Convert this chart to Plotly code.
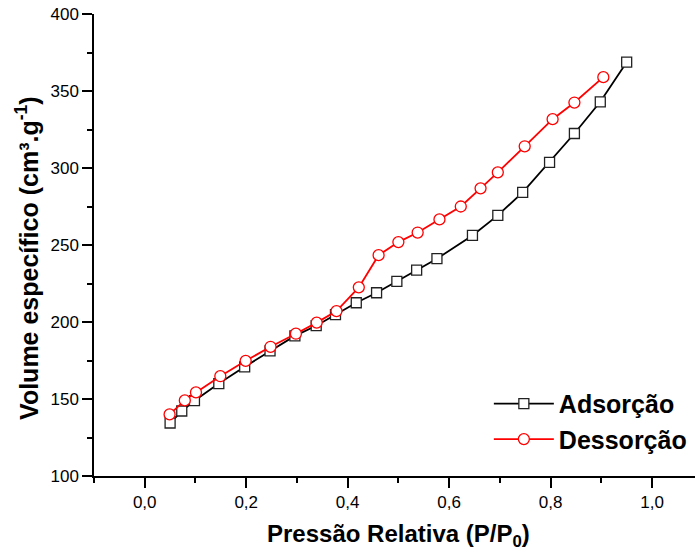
import plotly.graph_objects as go

# Data
ads_x = [0.050, 0.073, 0.098, 0.146, 0.197, 0.247, 0.296, 0.338, 0.376, 0.417, 0.457,
         0.497, 0.536, 0.576, 0.646, 0.696, 0.745, 0.798, 0.847, 0.898, 0.950]
ads_y = [134.4, 142.2, 148.9, 160.0, 170.9, 181.3, 191.0, 197.6, 204.8, 212.5, 219.0,
         226.4, 233.7, 241.1, 256.2, 269.2, 284.2, 303.7, 322.4, 343.0, 368.7]

des_x = [0.049, 0.079, 0.101, 0.149, 0.199, 0.248, 0.298, 0.339, 0.378, 0.422, 0.461,
         0.500, 0.538, 0.581, 0.623, 0.662, 0.696, 0.749, 0.804, 0.847, 0.904]
des_y = [140.0, 149.1, 154.3, 164.8, 174.8, 183.9, 192.4, 199.6, 207.1, 222.5, 243.4,
         251.9, 258.1, 266.6, 275.0, 286.8, 297.2, 314.1, 331.7, 342.5, 359.0]

x_ticks = [0.0, 0.2, 0.4, 0.6, 0.8, 1.0]
x_ticklabels = ["0,0", "0,2", "0,4", "0,6", "0,8", "1,0"]
y_ticks = [100, 150, 200, 250, 300, 350, 400]

x_title = "Pressão Relativa (P/P<sub>0</sub>)"
y_title = "Volume específico (cm³.g<sup>-1</sup>)"

FONT = "Liberation Sans, Arial, sans-serif"
TITLE_FONT = dict(family=FONT, size=25, weight="bold", color="black")
XTITLE_FONT = dict(family=FONT, size=24, weight="bold", color="black")

fig = go.Figure()
fig.add_trace(go.Scatter(
    x=ads_x, y=ads_y, mode="lines+markers", name="Adsorção",
    line=dict(color="black", width=1.8),
    marker=dict(symbol="square", size=10, color="white",
                line=dict(color="#222222", width=1.3)),
))
fig.add_trace(go.Scatter(
    x=des_x, y=des_y, mode="lines+markers", name="Dessorção",
    line=dict(color="#ff0000", width=1.8),
    marker=dict(symbol="circle", size=11, color="white",
                line=dict(color="#ff0000", width=1.3)),
))

fig.update_layout(
    width=695, height=554,
    margin=dict(l=94, r=0, t=14, b=78, pad=0),
    paper_bgcolor="white", plot_bgcolor="white",
    font=dict(family=FONT, color="black", size=17),
    showlegend=True,
    legend=dict(
        x=0.657, y=0.206, xanchor="left", yanchor="top",
        bgcolor="rgba(0,0,0,0)", borderwidth=0,
        font=TITLE_FONT,
        itemwidth=60, tracegroupgap=0,
    ),
    xaxis=dict(
        range=[-0.1, 1.0847], showgrid=False, zeroline=False,
        showline=True, linecolor="black", linewidth=1.5,
        ticks="outside", ticklen=10, tickwidth=1.5, tickcolor="black",
        tickvals=x_ticks, ticktext=x_ticklabels,
        tickfont=dict(family=FONT, size=17),
        minor=dict(dtick=0.1, tick0=0.1, ticks="outside", ticklen=5,
                   tickwidth=1.5, tickcolor="black", showgrid=False),
    ),
    yaxis=dict(
        range=[100, 400], showgrid=False, zeroline=False,
        showline=True, linecolor="black", linewidth=1.5,
        ticks="outside", ticklen=10, tickwidth=1.5, tickcolor="black",
        tickvals=y_ticks,
        tickfont=dict(family=FONT, size=17),
        minor=dict(dtick=25, tick0=125, ticks="outside", ticklen=5,
                   tickwidth=1.5, tickcolor="black", showgrid=False),
    ),
    annotations=[
        dict(text=x_title, xref="paper", yref="paper", x=0.506, y=-0.128,
             xanchor="center", yanchor="middle", showarrow=False, font=XTITLE_FONT),
        dict(text=y_title, xref="paper", yref="paper", x=-0.1115, y=0.472,
             xanchor="center", yanchor="middle", textangle=-90, showarrow=False,
             font=TITLE_FONT),
    ],
)

fig.write_html("out.html")
